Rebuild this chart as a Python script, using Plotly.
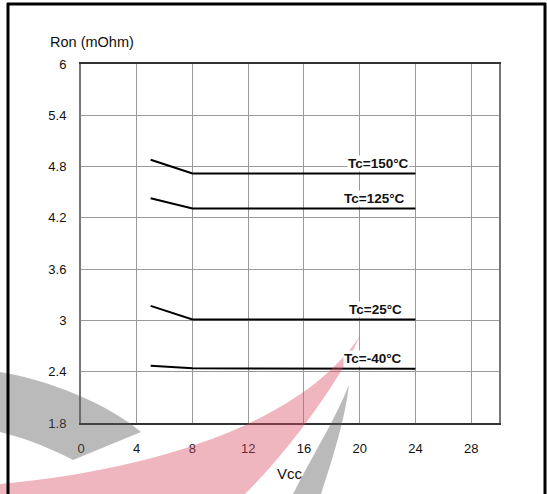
import plotly.graph_objects as go

# ---- data ----
vcc = [5, 8, 24]
series_names = ["Tc=150°C", "Tc=125°C", "Tc=25°C", "Tc=-40°C"]
ron_150 = [4.88, 4.72, 4.72]
ron_125 = [4.43, 4.31, 4.31]
ron_25 = [3.17, 3.01, 3.01]
ron_m40 = [2.47, 2.44, 2.435]
series_values = [ron_150, ron_125, ron_25, ron_m40]
label_xshift = [-5, -9, -12, -12]

x_ticks = [0, 4, 8, 12, 16, 20, 24, 28]
y_ticks = [6, 5.4, 4.8, 4.2, 3.6, 3, 2.4, 1.8]

# ---- layout geometry ----
W, H = 547, 494
L, R, T, B = 81, 48, 64, 71
pw, ph = W - L - R, H - T - B


def px(x):
    return (x - L) / pw


def py(y):
    return (H - B - y) / ph


FONT = "Arial, Liberation Sans, Helvetica, sans-serif"

fig = go.Figure()
for name, vals in zip(series_names, series_values):
    fig.add_trace(go.Scatter(x=vcc, y=vals, mode="lines", name=name,
                             line=dict(color="black", width=2),
                             showlegend=False, hoverinfo="skip"))

for name, vals, xs in zip(series_names, series_values, label_xshift):
    fig.add_annotation(x=vcc[-1], y=vals[-1], text="<b>%s</b>" % name,
                       showarrow=False, xanchor="right", yanchor="middle",
                       xshift=xs, yshift=10, bgcolor="white", borderpad=0,
                       font=dict(family=FONT, size=13.5, color="#111"))

# axis titles
fig.add_annotation(xref="paper", yref="paper", x=px(48), y=py(42),
                   text="Ron (mOhm)", showarrow=False, xanchor="left",
                   yanchor="middle", font=dict(family=FONT, size=14.5, color="#111"))
fig.add_annotation(xref="paper", yref="paper", x=px(290), y=py(473),
                   text="Vcc", showarrow=False, xanchor="center",
                   yanchor="middle", font=dict(family=FONT, size=15, color="#111"))


# watermark shapes (decorative, pixel paths converted to paper coords)
def P(x, y):
    return "%.4f,%.4f" % (px(x), py(y))


red_path = ("M " + P(0, 484) + " C " + P(150, 470) + " " + P(300, 425) + " " + P(360, 336)
            + " C " + P(340, 380) + " " + P(290, 450) + " " + P(245, 494)
            + " L " + P(0, 494) + " Z")
gray_left = ("M " + P(0, 372) + " C " + P(50, 380) + " " + P(110, 405) + " " + P(141, 432)
             + " L " + P(73, 460) + " C " + P(50, 448) + " " + P(25, 438) + " " + P(0, 432) + " Z")
gray_right = ("M " + P(349, 385) + " C " + P(335, 420) + " " + P(310, 460) + " " + P(293, 494)
              + " L " + P(321, 494) + " C " + P(332, 460) + " " + P(345, 420) + " " + P(349, 385) + " Z")

shapes = [
    dict(type="path", xref="paper", yref="paper", path=red_path,
         fillcolor="rgba(220,80,105,0.42)", line=dict(width=0), layer="above"),
    dict(type="path", xref="paper", yref="paper", path=gray_left,
         fillcolor="rgba(90,90,90,0.42)", line=dict(width=0), layer="above"),
    dict(type="path", xref="paper", yref="paper", path=gray_right,
         fillcolor="rgba(90,90,90,0.42)", line=dict(width=0), layer="above"),
    # outer frame
    dict(type="line", xref="paper", yref="paper", x0=px(8), x1=px(8), y0=py(3), y1=py(500),
         line=dict(color="black", width=3)),
    dict(type="line", xref="paper", yref="paper", x0=px(7), x1=px(546), y0=py(4), y1=py(4),
         line=dict(color="black", width=3)),
    dict(type="line", xref="paper", yref="paper", x0=px(545), x1=px(545), y0=py(3), y1=py(500),
         line=dict(color="black", width=3)),
]

fig.update_layout(
    width=W, height=H,
    margin=dict(l=L, r=R, t=T, b=B, pad=0),
    paper_bgcolor="white", plot_bgcolor="white",
    font=dict(family=FONT, size=13, color="#111"),
    shapes=shapes,
    xaxis=dict(range=[0, 30], tickvals=x_ticks, ticktext=[str(v) for v in x_ticks],
               showgrid=True, gridcolor="#9a9a9a", gridwidth=1,
               showline=True, linecolor="#333", linewidth=2, mirror=True,
               ticks="", ticklabelstandoff=12, zeroline=False,
               tickfont=dict(family=FONT, size=13, color="#111")),
    yaxis=dict(range=[1.8, 6], tickvals=y_ticks, ticktext=[("%g" % v) for v in y_ticks],
               showgrid=True, gridcolor="#9a9a9a", gridwidth=1,
               showline=True, linecolor="#777", linewidth=2, mirror=True,
               ticks="", ticklabelstandoff=10, zeroline=False,
               tickfont=dict(family=FONT, size=13, color="#111")),
)

fig.write_html("out.html", config={"displayModeBar": False},
               post_script="document.body.style.margin='0';document.body.style.overflow='hidden';")
